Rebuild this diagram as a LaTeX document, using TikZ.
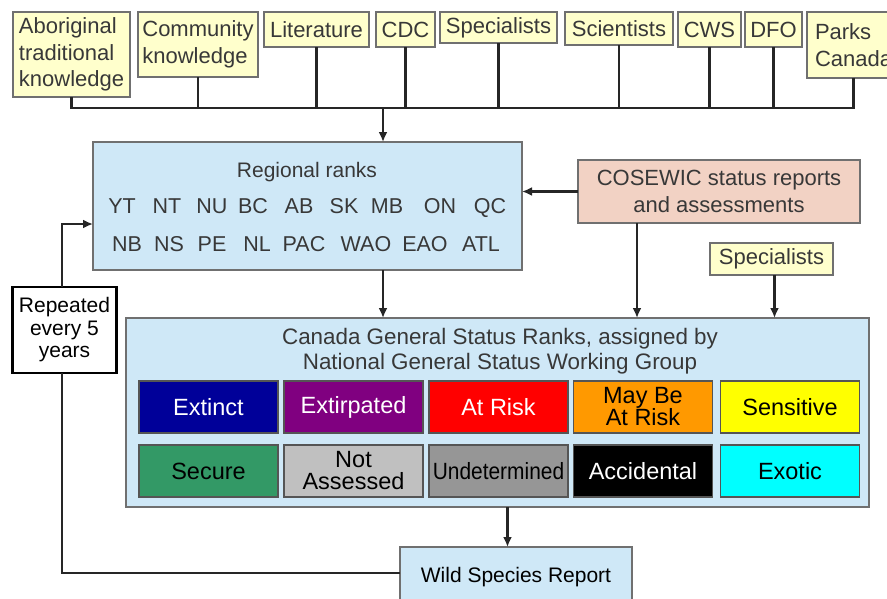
\documentclass[tikz,border=0pt]{standalone}
\usepackage{fontspec}
\setmainfont{Liberation Sans}
\usetikzlibrary{arrows.meta}
\definecolor{ybox}{HTML}{FFFFCC}
\definecolor{bbox}{HTML}{CFE8F7}
\definecolor{pbox}{HTML}{F2D2C4}
\definecolor{bord}{HTML}{707070}
\definecolor{txt}{HTML}{383838}
\definecolor{line}{HTML}{262626}
\definecolor{cExtinct}{HTML}{000099}
\definecolor{cExtirp}{HTML}{800080}
\definecolor{cRisk}{HTML}{FF0000}
\definecolor{cMay}{HTML}{FF9900}
\definecolor{cSens}{HTML}{FFFF00}
\definecolor{cSecure}{HTML}{339966}
\definecolor{cNotAss}{HTML}{C0C0C0}
\definecolor{cUndet}{HTML}{969696}
\definecolor{cAcc}{HTML}{000000}
\definecolor{cExotic}{HTML}{00FFFF}
\definecolor{sbord}{HTML}{555555}
\tikzset{
  src/.style={draw=bord, line width=1.6pt, fill=ybox, inner sep=0pt, outer sep=0pt,
    text=txt, align=left, font=\fontsize{22}{26.5}\selectfont},
  bluebox/.style={draw=bord, line width=1.6pt, fill=bbox, inner sep=0pt, outer sep=0pt},
  code/.style={text=txt, inner sep=0pt, anchor=base, font=\fontsize{21.5}{24}\selectfont},
  stat/.style={draw=sbord, line width=1.3pt, minimum width=139pt, minimum height=52pt,
    inner sep=0pt, outer sep=0pt, align=center, font=\fontsize{23.5}{22}\selectfont},
  conn/.style={draw=line, line width=2.3pt},
  arr/.style={conn, -{Latex[length=10pt,width=9pt]}},
}
\begin{document}
\begin{tikzpicture}[x=1pt,y=-1pt]
\useasboundingbox (0,0) rectangle (887,598);
\clip (0,0) rectangle (887,598);
\fill[white] (0,0) rectangle (887,598);

% top source boxes
\node[src, minimum width=117pt, minimum height=85pt] (ab) at (71.5,54.5) {Aboriginal\\traditional\\knowledge};
\node[src, minimum width=120pt, minimum height=65pt] (com) at (198,44.5) {Community\\knowledge};
\node[src, minimum width=105pt, minimum height=35pt] (lit) at (316.5,29.5) {Literature};
\node[src, minimum width=59pt, minimum height=35pt] (cdc) at (405.5,29.5) {CDC};
\node[src, minimum width=117pt, minimum height=31pt] (spec) at (498.5,27.5) {Specialists};
\node[src, minimum width=108pt, minimum height=33pt] (sci) at (619,28.5) {Scientists};
\node[src, minimum width=63pt, minimum height=35pt] (cws) at (709.5,29.5) {CWS};
\node[src, minimum width=57pt, minimum height=35pt] (dfo) at (773.5,29.5) {DFO};
\node[src, anchor=north west, inner xsep=8pt, minimum height=66pt] (parks) at (807,12) {Parks\\Canada};

% bus
\coordinate (busc) at (383,108);
\draw[conn] (ab.south) -- (ab.south |- busc) -- (parks.south |- busc) -- (parks.south);
\foreach \n in {com,lit,cdc,spec,sci,cws,dfo} \draw[conn] (\n.south) -- (\n.south |- busc);

% regional ranks
\node[bluebox, minimum width=429pt, minimum height=128pt] (reg) at (307.5,206) {};
\node[code, font=\fontsize{21}{24}\selectfont] (regt) at (307,177.5) {Regional ranks};
\foreach \t/\x in {YT/122,NT/167,NU/212,BC/253,AB/299,SK/344,MB/387,ON/440,QC/490}
  \node[code] (r1\t) at (\x,213) {\t};
\foreach \t/\x in {NB/127,NS/169,PE/212,NL/257,PAC/304,WAO/366,EAO/425,ATL/481}
  \node[code] (r2\t) at (\x,251) {\t};
\draw[arr] (busc) -- (busc |- reg.north);

% COSEWIC
\node[draw=bord, line width=1.6pt, fill=pbox, minimum width=282pt, minimum height=63pt,
  inner sep=0pt, outer sep=0pt, text=txt, align=center, font=\fontsize{22}{27}\selectfont]
  (cos) at (719,191.5) {COSEWIC status reports\\and assessments};
\draw[arr] (cos.west) -- (cos.west -| reg.east);

% second specialists
\node[src, minimum width=123pt, minimum height=32pt, align=center] (spec2) at (771.5,259) {Specialists};

% Canada general status
\node[bluebox, minimum width=743pt, minimum height=189pt] (can) at (497.5,412.5) {};
\node[text=txt, inner sep=0pt, align=center, font=\fontsize{22.4}{25}\selectfont] (cant) at (500,351)
  {Canada General Status Ranks, assigned by\\National General Status Working Group};

\draw[arr] (reg.south -| busc) -- (can.north -| busc);
\draw[arr] ([xshift=-82pt]cos.south) -- ([xshift=-82pt]cos.south |- can.north);
\draw[arr] ([xshift=3pt]spec2.south) -- ([xshift=3pt]spec2.south |- can.north);

\node[stat, fill=cExtinct, text=white] (s1) at (208.5,407) {Extinct};
\node[stat, fill=cExtirp, text=white] (s2) at (353.5,407) {Extirpated};
\node[stat, fill=cRisk, text=white] (s3) at (498.5,407) {At Risk};
\node[stat, fill=cMay, text=black] (s4) at (643,407) {May Be\\At Risk};
\node[stat, fill=cSens, text=black] (s5) at (790,407) {Sensitive};
\node[stat, fill=cSecure, text=black] (s6) at (208.5,471) {Secure};
\node[stat, fill=cNotAss, text=black] (s7) at (353.5,471) {Not\\Assessed};
\node[stat, fill=cUndet, text=black] (s8) at (498.5,471) {\scalebox{0.89}[1]{Undetermined}};
\node[stat, fill=cAcc, text=white] (s9) at (643,471) {Accidental};
\node[stat, fill=cExotic, text=black] (s10) at (790,471) {Exotic};

% wild species report
\node[bluebox, minimum width=232pt, minimum height=60pt, text=black,
  font=\fontsize{21}{24}\selectfont] (wsr) at (516,577) {Wild Species Report};
\draw[arr] ([xshift=10pt]can.south) -- ([xshift=10pt]can.south |- wsr.north);

% repeated loop
\node[draw=black, line width=2.5pt, fill=white, minimum width=104pt, minimum height=86pt,
  inner sep=0pt, outer sep=0pt, align=center, text=black, font=\fontsize{21}{22.5}\selectfont]
  (rep) at (64.5,330) {Repeated\\every 5\\years};
\coordinate (regin) at (93,224);
\draw[conn] ([yshift=4pt]wsr.west) -| ([xshift=-2.5pt]rep.south);
\draw[arr] ([xshift=-2.5pt]rep.north) |- (regin);
\end{tikzpicture}
\end{document}
